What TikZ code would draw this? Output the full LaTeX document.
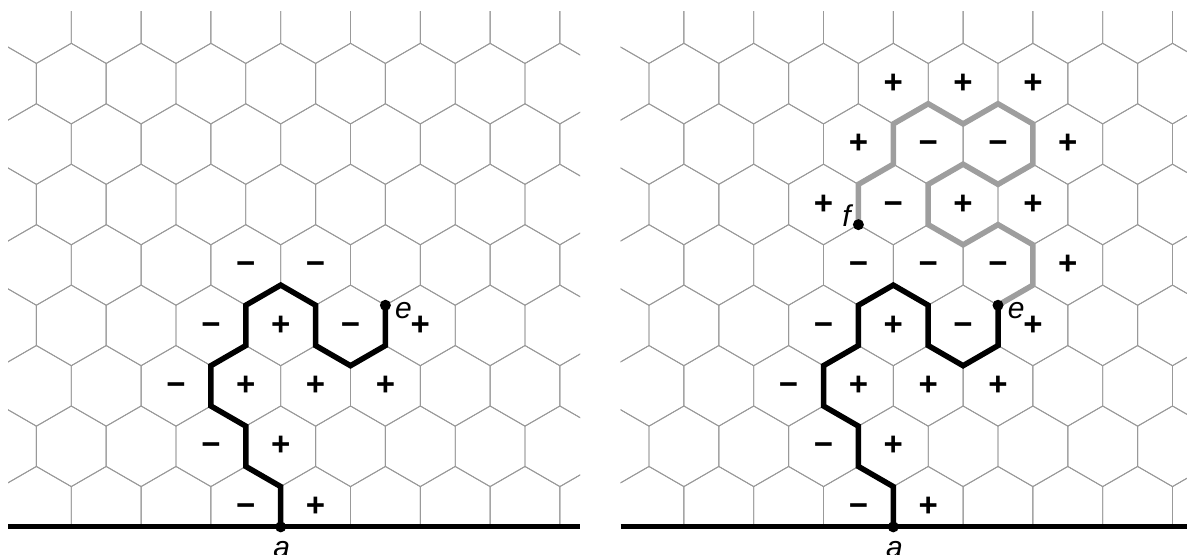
\documentclass[tikz,border=0pt]{standalone}
\usepackage{fontspec}
\setmainfont{Liberation Sans}
\definecolor{gridgray}{gray}{0.6}
\definecolor{pathgray}{gray}{0.62}
\newcommand\hexpanelgrid{%
  \begin{scope}
    \clip (-7.81,0) rectangle (8.58,25.6);
    \foreach \r in {0,...,8}{
      \foreach \k in {-5,...,5}{
        \pgfmathtruncatemacro\cx{2*\k+1-mod(\r,2)}
        \pgfmathtruncatemacro\cy{1+3*\r}
        \draw[gridline] (\cx,\cy) ++(0,2) -- ++(1,-1) -- ++(0,-2) -- ++(-1,-1) -- ++(-1,1) -- ++(0,2) -- cycle;
      }
    }
  \end{scope}
  \draw[baseline] (-7.81,0) -- (8.58,0);
}
\begin{document}
\begin{tikzpicture}[x=34.9bp, y=20.15bp,
  gridline/.style={draw=gridgray, line width=0.9bp},
  bpath/.style={draw=black, line width=5.5bp},
  gpath/.style={draw=pathgray, line width=5.5bp},
  baseline/.style={draw=black, line width=5bp},
  sgn/.style={font=\fontsize{33bp}{38bp}\selectfont\bfseries, inner sep=0pt},
  lbl/.style={font=\fontsize{30bp}{36bp}\selectfont\itshape, inner sep=0pt, anchor=base},
  dotr/.style={fill=black}
]
\useasboundingbox (-280.7bp,-28.1bp) rectangle (906.3bp,526.9bp);

% ---------- left panel ----------
\begin{scope}
  \hexpanelgrid
  \coordinate (la) at (0,0);
  \coordinate (le) at (3,11);
  \draw[bpath] (la) -- (0,2) -- (-1,3) -- (-1,5) -- (-2,6) -- (-2,8) -- (-1,9) -- (-1,11) -- (0,12) -- (1,11) -- (1,9) -- (2,8) -- (3,9) -- (le);
  \fill[dotr] (la) circle (5.5bp);
  \fill[dotr] (le) circle (5.5bp);
  \node[lbl] (lalab) at (0.03,-1.53) {a};
  \node[lbl] (lelab) at (3.52,10.32) {e};
  \foreach \x/\y [count=\i] in {1/1,0/4,-1/7,1/7,3/7,0/10,4/10}
    \node[sgn] (lplus\i) at (\x,\y) {+};
  \foreach \x/\y [count=\i] in {-1/1,-2/4,-3/7,-2/10,2/10,-1/13,1/13}
    \node[sgn] (lminus\i) at (\x,\y) {\vphantom{+}−};
\end{scope}

% ---------- right panel ----------
\begin{scope}[xshift=612.6bp]
  \hexpanelgrid
  \coordinate (ra) at (0,0);
  \coordinate (re) at (3,11);
  \coordinate (rf) at (-1,15);
  \draw[gpath] (rf) -- (-1,17) -- (0,18) -- (0,20) -- (1,21) -- (2,20) -- (3,21) -- (4,20) -- (4,18) -- (3,17) -- (2,18) -- (1,17) -- (1,15) -- (2,14) -- (3,15) -- (4,14) -- (4,12) -- (re);
  \draw[bpath] (ra) -- (0,2) -- (-1,3) -- (-1,5) -- (-2,6) -- (-2,8) -- (-1,9) -- (-1,11) -- (0,12) -- (1,11) -- (1,9) -- (2,8) -- (3,9) -- (re);
  \fill[dotr] (ra) circle (5.5bp);
  \fill[dotr] (re) circle (5.5bp);
  \fill[dotr] (rf) circle (5.5bp);
  \node[lbl] (ralab) at (0.03,-1.53) {a};
  \node[lbl] (relab) at (3.52,10.32) {e};
  \node[lbl] (rflab) at (-1.34,14.89) {f};
  \foreach \x/\y [count=\i] in {1/1,0/4,-1/7,1/7,3/7,0/10,4/10,5/13,-2/16,2/16,4/16,-1/19,5/19,0/22,2/22,4/22}
    \node[sgn] (rplus\i) at (\x,\y) {+};
  \foreach \x/\y [count=\i] in {-1/1,-2/4,-3/7,-2/10,2/10,-1/13,1/13,3/13,0/16,1/19,3/19}
    \node[sgn] (rminus\i) at (\x,\y) {\vphantom{+}−};
\end{scope}
\end{tikzpicture}
\end{document}
